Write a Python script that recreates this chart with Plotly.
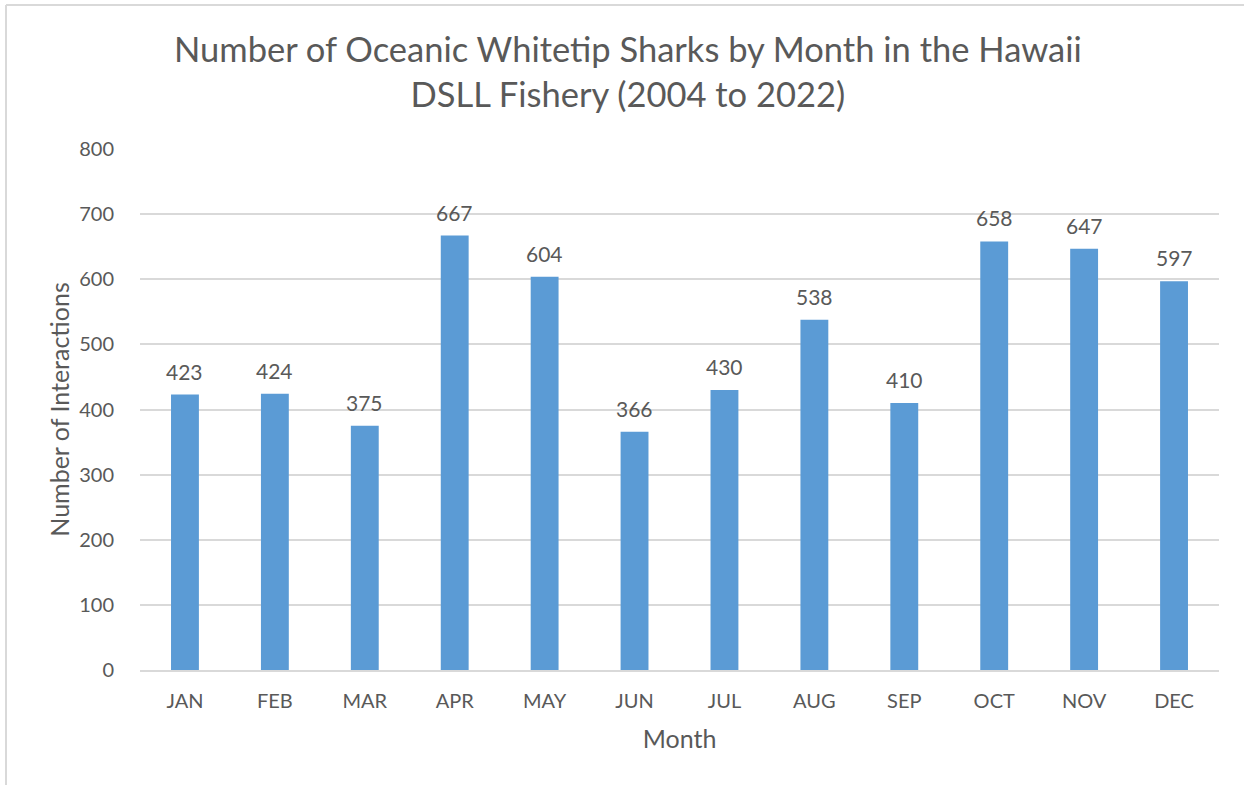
import plotly.graph_objects as go

months = ["JAN", "FEB", "MAR", "APR", "MAY", "JUN", "JUL", "AUG", "SEP", "OCT", "NOV", "DEC"]
interactions = [423, 424, 375, 667, 604, 366, 430, 538, 410, 658, 647, 597]
y_ticks = [0, 100, 200, 300, 400, 500, 600, 700, 800]

FONT = "Lato"
GRAY = "#595959"
BAR = "#5B9BD5"
GRID = "#D9D9D9"

fig = go.Figure(
    go.Bar(
        x=months,
        y=interactions,
        marker=dict(color=BAR, line=dict(width=0)),
        cliponaxis=False,
    )
)

# plot area spans pixels 140..1219 horizontally, 149..670 vertically
L, R, T, B = 140, 25, 149, 115
W, H = 1244, 785
pw, ph = W - L - R, H - T - B


def px_x(p):
    return (p - L) / pw


def px_y(p):
    return (H - B - p) / ph


# value labels sit a little above each bar
value_labels = [
    dict(
        x=m, y=v, xref="x", yref="y",
        text=str(v), showarrow=False,
        xanchor="center", yanchor="bottom", yshift=9,
        font=dict(family=FONT, size=21, color=GRAY),
    )
    for m, v in zip(months, interactions)
]

title_label = dict(
    text="Number of Oceanic Whitetip Sharks by Month in the Hawaii<br>DSLL Fishery (2004 to 2022)",
    xref="paper", yref="paper",
    x=px_x(628), y=px_y(71),
    xanchor="center", yanchor="middle",
    showarrow=False,
    font=dict(family=FONT, size=34.5, color=GRAY),
)

fig.update_layout(
    width=W,
    height=H,
    margin=dict(l=L, r=R, t=T, b=B),
    paper_bgcolor="white",
    plot_bgcolor="white",
    bargap=0.69,
    showlegend=False,
    font=dict(family=FONT, color=GRAY),
    xaxis=dict(
        title=dict(text="Month", font=dict(family=FONT, size=25, color=GRAY), standoff=19),
        tickfont=dict(family=FONT, size=20, color=GRAY),
        showline=True,
        linecolor=GRID,
        linewidth=2,
        ticks="",
        ticklabelstandoff=12,
    ),
    yaxis=dict(
        title=dict(text="Number of Interactions", font=dict(family=FONT, size=25, color=GRAY), standoff=2),
        range=[0, 800],
        tickvals=y_ticks,
        tickfont=dict(family=FONT, size=20, color=GRAY),
        showgrid=True,
        gridcolor=GRID,
        gridwidth=1.5,
        zeroline=False,
        ticks="",
        ticklabelstandoff=25,
    ),
    annotations=value_labels + [title_label],
    shapes=[
        dict(type="line", xref="paper", yref="paper",
             x0=px_x(6), x1=px_x(6), y0=px_y(5), y1=px_y(800),
             line=dict(color=GRID, width=2)),
        dict(type="line", xref="paper", yref="paper",
             x0=px_x(6), x1=px_x(1260), y0=px_y(5), y1=px_y(5),
             line=dict(color=GRID, width=2)),
    ],
)

fig.write_html("out.html")
